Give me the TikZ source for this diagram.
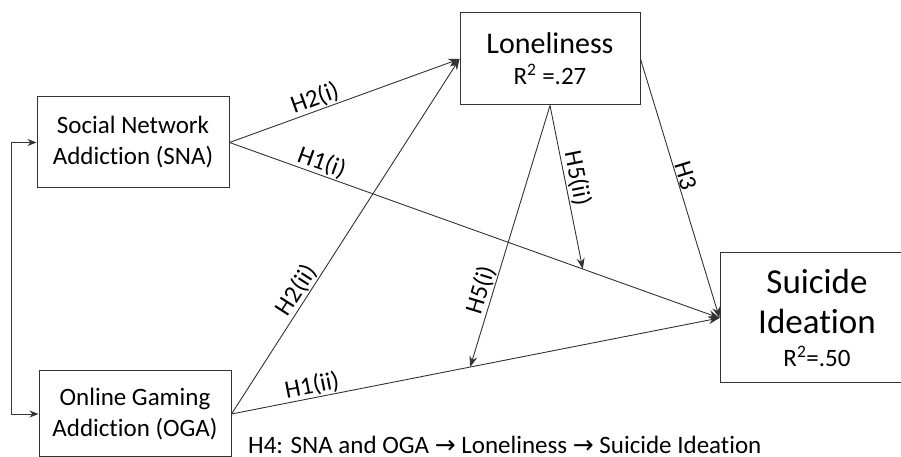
\documentclass[tikz,border=0pt]{standalone}
\usepackage{fontspec}
\setmainfont{Carlito}[Ligatures=NoCommon]
\newfontfamily\symfont{DejaVu Sans}
\usetikzlibrary{arrows.meta, positioning, calc}

\begin{document}
\begin{tikzpicture}[x=1pt, y=1pt,
  vbox/.style={draw=black!80, line width=1pt, align=center, inner sep=0pt, font=\fontsize{25}{31}\selectfont},
  arr/.style={draw=black!80, line width=0.9pt, -{Stealth[length=11pt, width=8pt]}},
  hlab/.style={font=\fontsize{25}{30}\selectfont, sloped, above, inner sep=1pt}
]
  \useasboundingbox (0,0) rectangle (901,457);
  \node[vbox, minimum width=192pt, minimum height=91pt] (SNA) at (133, 314.5) {Social Network\\Addiction (SNA)};
  \node[vbox, minimum width=192pt, minimum height=86pt] (OGA) at (135, 43) {Online Gaming\\Addiction (OGA)};
  \node[vbox, minimum width=180pt, minimum height=92pt] (Lon) at (550, 398) {\fontsize{30}{33}\selectfont Loneliness\\\fontsize{25}{32}\selectfont R\textsuperscript{2} =.27};
  \node[vbox, minimum width=194pt, minimum height=130pt] (SI) at (817, 139) {\fontsize{35}{40}\selectfont Suicide\\[9pt]\fontsize{35}{40}\selectfont Ideation\\[2pt]\fontsize{25}{36}\selectfont R\textsuperscript{2}=.50};

  % points where the moderating paths meet the direct paths
  \coordinate (m2) at ($(SNA.east)!0.721!(SI.west)$);
  \coordinate (m1) at ($(OGA.east)!0.489!(SI.west)$);

  \draw[draw=black!80, line width=0.9pt, {Stealth[length=9pt, width=7pt]}-{Stealth[length=9pt, width=7pt]}] (SNA.west) -- ([xshift=-25pt]SNA.west) |- (OGA.west);

  \draw[arr] (SNA.east) -- node[hlab, pos=0.39] {H2(i)} (Lon.west);
  \draw[arr] (SNA.east) -- node[hlab, pos=0.18] {H1(i)} (SI.west);
  \draw[arr] (OGA.east) -- node[hlab, pos=0.33] {H2(ii)} (Lon.west);
  \draw[arr] (OGA.east) -- node[hlab, pos=0.17] {H1(ii)} (SI.west);
  \draw[arr] (Lon.east) -- node[hlab, pos=0.46] {H3} (SI.west);
  \draw[arr] (Lon.south) -- node[hlab, pos=0.46] {H5(ii)} (m2);
  \draw[arr] (Lon.south) -- node[hlab, pos=0.72] {H5(i)} (m1);

  \node[anchor=west, font=\fontsize{25}{30}\selectfont, inner sep=0pt] (H4) at (248, 12) {H4: SNA and OGA {\symfont →} Loneliness {\symfont →} Suicide Ideation};
\end{tikzpicture}
\end{document}
